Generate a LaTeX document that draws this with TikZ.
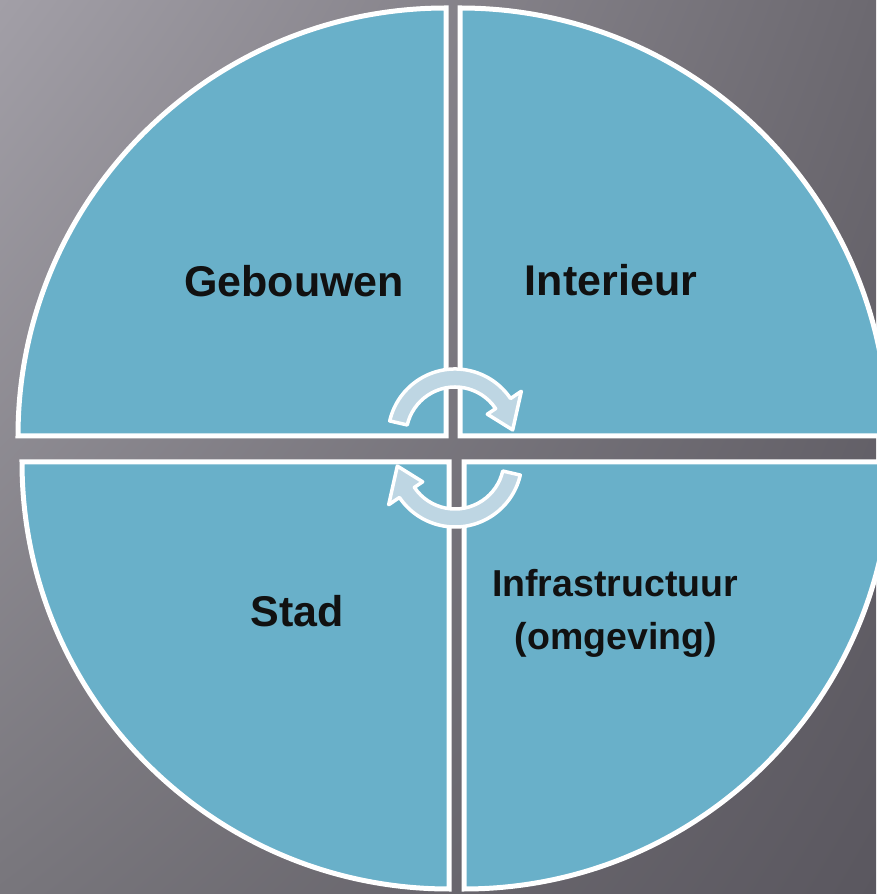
\documentclass[tikz,border=0pt]{standalone}
\usepackage{fontspec}
\setmainfont{Liberation Sans}
\usetikzlibrary{shadings}
\definecolor{qblue}{RGB}{105,176,201}
\definecolor{arrowblue}{RGB}{190,214,227}
\definecolor{bgul}{RGB}{162,159,167}
\definecolor{bgur}{RGB}{108,105,112}
\definecolor{bgll}{RGB}{120,118,124}
\definecolor{bglr}{RGB}{90,87,95}
\definecolor{txt}{RGB}{17,17,17}
\begin{document}
\begin{tikzpicture}[x=1pt,y=1pt,
  quad/.style={fill=qblue, draw=white, line width=5pt},
  lbl/.style={font=\bfseries\fontsize{43}{48}\selectfont, text=txt, inner sep=0pt, anchor=base},
  slbl/.style={font=\bfseries\fontsize{37.5}{44}\selectfont, text=txt, inner sep=0pt, anchor=base},
  carrow/.style={fill=arrowblue, draw=white, line width=3.5pt, line join=round}]
\useasboundingbox (0,0) rectangle (876,894);
\shade[upper left=bgul, upper right=bgur, lower left=bgll, lower right=bglr] (0,0) rectangle (876,894);
% quadrants
\draw[quad] (446,458) -- (18,458) arc[start angle=180,end angle=90,radius=428] -- cycle;
\draw[quad] (460,458) -- (460,886) arc[start angle=90,end angle=0,radius=428] -- cycle;
\draw[quad] (449,432) -- (22,432) arc[start angle=180,end angle=270,radius=427] -- cycle;
\draw[quad] (464,432) -- (464,5) arc[start angle=270,end angle=360,radius=427] -- cycle;
% labels
\node[lbl] (geb) at (294,597) {Gebouwen};
\node[lbl] (int) at (611,598) {Interieur};
\node[lbl] (stad) at (297,267) {Stad};
\node[slbl] (infra) at (615,297) {Infrastructuur};
\node[slbl] (omg) at (616,244) {(omgeving)};
% circular arrows
\begin{scope}[shift={(455,458)}]
\draw[carrow] (167:67) arc[start angle=167,end angle=34,radius=67] -- (34:80) -- (6:58) -- (34:39) -- (34:49) arc[start angle=34,end angle=167,radius=49] -- cycle;
\end{scope}
\begin{scope}[shift={(455,434)}]
\draw[carrow] (347:67) arc[start angle=347,end angle=214,radius=67] -- (214:80) -- (186:58) -- (214:39) -- (214:49) arc[start angle=214,end angle=347,radius=49] -- cycle;
\end{scope}
\end{tikzpicture}
\end{document}
